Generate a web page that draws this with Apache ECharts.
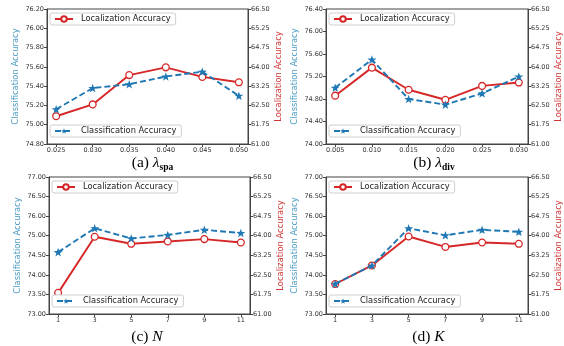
<!DOCTYPE html>
<html>
<head>
<meta charset="utf-8">
<script src="https://cdn.jsdelivr.net/npm/echarts@6/dist/echarts.min.js"></script>
<style>
html,body{margin:0;padding:0;background:#fff;}
#c{width:564px;height:346px;}
</style>
</head>
<body>
<div id="c"></div>
<script>
// ---- data ----
const aX = [0.025, 0.030, 0.035, 0.040, 0.045, 0.050];
const aXLabels = ['0.025', '0.030', '0.035', '0.040', '0.045', '0.050'];
const aCls = [75.16, 75.38, 75.42, 75.50, 75.55, 75.30];
const aLoc = [62.08, 62.54, 63.68, 63.98, 63.61, 63.40];

const bX = [0.005, 0.010, 0.015, 0.020, 0.025, 0.030];
const bXLabels = ['0.005', '0.010', '0.015', '0.020', '0.025', '0.030'];
const bCls = [75.00, 75.50, 74.80, 74.70, 74.90, 75.20];
const bLoc = [62.88, 63.97, 63.11, 62.72, 63.26, 63.39];

const cX = [1, 3, 5, 7, 9, 11];
const cXLabels = ['1', '3', '5', '7', '9', '11'];
const cCls = [74.58, 75.19, 74.93, 75.02, 75.15, 75.07];
const cLoc = [61.81, 63.96, 63.69, 63.78, 63.87, 63.74];

const dX = [1, 3, 5, 7, 9, 11];
const dXLabels = ['1', '3', '5', '7', '9', '11'];
const dCls = [73.77, 74.24, 75.19, 75.01, 75.15, 75.10];
const dLoc = [62.15, 62.86, 63.97, 63.57, 63.74, 63.69];

// tick labels (as printed) and the evenly spaced tick positions they sit on
const aLeftTickLabels = ['74.80', '75.00', '75.20', '75.40', '75.60', '75.80', '76.00', '76.20'];
const aLeftTickValues = [74.8, 75.0, 75.2, 75.4, 75.6, 75.8, 76.0, 76.2];
const bLeftTickLabels = ['74.00', '74.40', '74.80', '75.20', '75.60', '76.00', '76.40'];
const bLeftTickValues = [74.0, 74.4, 74.8, 75.2, 75.6, 76.0, 76.4];
const cdLeftTickLabels = ['73.00', '73.50', '74.00', '74.50', '75.00', '76.00', '76.50', '77.00'];
const cdLeftTickValues = [73.0, 73.5, 74.0, 74.5, 75.0, 75.5, 76.0, 76.5];
const rightTickLabels = ['61.00', '61.75', '62.50', '63.25', '64.00', '64.75', '65.25', '66.50'];
const rightTickValues = [61.0, 61.75, 62.5, 63.25, 64.0, 64.75, 65.5, 66.25];

const captions = [
  {id: '(a) ', sym: 'λ', sub: 'spa'},
  {id: '(b) ', sym: 'λ', sub: 'div'},
  {id: '(c) ', sym: 'N', sub: ''},
  {id: '(d) ', sym: 'K', sub: ''}
];

const LOC = 'Localization Accuracy';
const CLS = 'Classification Accuracy';

// ---- styling ----
const BLUE = '#1f77b4';
const RED = '#d62728';
const BLUE_T = '#4a9ac2';
const RED_T = '#cf3434';
const SPINE = '#444';
const TICKC = '#333';
const FONT = '"DejaVu Sans", sans-serif';
const STAR = 'path://M0,-10 L2.35,-3.24 L9.51,-3.09 L3.8,1.24 L5.88,8.09 L0,4 L-5.88,8.09 L-3.8,1.24 L-9.51,-3.09 L-2.35,-3.24 Z';

const panels = [
  {x: aX, xl: aXLabels, cls: aCls, loc: aLoc, lt: aLeftTickLabels, lv: aLeftTickValues, pad: 0.00125,
   grid: {left: 47, top: 9, width: 201, height: 135}, cap: [152.5, 163]},
  {x: bX, xl: bXLabels, cls: bCls, loc: bLoc, lt: bLeftTickLabels, lv: bLeftTickValues, pad: 0.00125,
   grid: {left: 326, top: 9, width: 202, height: 135}, cap: [434, 163]},
  {x: cX, xl: cXLabels, cls: cCls, loc: cLoc, lt: cdLeftTickLabels, lv: cdLeftTickValues, pad: 0.5,
   grid: {left: 49, top: 177, width: 201, height: 137}, cap: [147, 337]},
  {x: dX, xl: dXLabels, cls: dCls, loc: dLoc, lt: cdLeftTickLabels, lv: cdLeftTickValues, pad: 0.5,
   grid: {left: 326, top: 177, width: 202, height: 137}, cap: [428.5, 337]}
];

function labelFor(values, labels) {
  return function (v) {
    let best = 0, bd = Infinity;
    for (let i = 0; i < values.length; i++) {
      const d = Math.abs(values[i] - v);
      if (d < bd) { bd = d; best = i; }
    }
    return bd < 1e-6 ? labels[best] : '';
  };
}

const grids = [], xAxes = [], yAxes = [], series = [], legends = [], graphics = [];
const axisLabelBase = {color: TICKC, fontSize: 6.5, fontFamily: FONT};

panels.forEach((p, k) => {
  grids.push(Object.assign({show: true, borderColor: SPINE, borderWidth: 1, backgroundColor: 'transparent'}, p.grid));
  xAxes.push({
    type: 'value', gridIndex: k,
    min: p.x[0] - p.pad, max: p.x[p.x.length - 1] + p.pad,
    splitLine: {show: false},
    axisLine: {show: true, onZero: false, lineStyle: {color: SPINE, width: 1}},
    axisTick: {show: true, length: 3, lineStyle: {color: SPINE}, customValues: p.x},
    axisLabel: Object.assign({}, axisLabelBase, {margin: 3, customValues: p.x, formatter: labelFor(p.x, p.xl)})
  });
  yAxes.push({
    type: 'value', gridIndex: k, position: 'left',
    min: p.lv[0], max: p.lv[p.lv.length - 1],
    splitLine: {show: false},
    axisLine: {show: true, onZero: false, lineStyle: {color: SPINE, width: 1}},
    axisTick: {show: true, length: 3, lineStyle: {color: SPINE}, customValues: p.lv},
    axisLabel: Object.assign({}, axisLabelBase, {margin: 3, customValues: p.lv, formatter: labelFor(p.lv, p.lt)}),
    name: CLS, nameLocation: 'middle', nameGap: 27,
    nameTextStyle: {color: BLUE_T, fontSize: 8.4, fontFamily: FONT}
  });
  yAxes.push({
    type: 'value', gridIndex: k, position: 'right',
    min: rightTickValues[0], max: rightTickValues[rightTickValues.length - 1],
    splitLine: {show: false},
    axisLine: {show: true, onZero: false, lineStyle: {color: SPINE, width: 1}},
    axisTick: {show: true, length: 3, lineStyle: {color: SPINE}, customValues: rightTickValues},
    axisLabel: Object.assign({}, axisLabelBase, {margin: 3, customValues: rightTickValues, formatter: labelFor(rightTickValues, rightTickLabels)}),
    name: LOC, nameLocation: 'middle', nameGap: 27,
    nameTextStyle: {color: RED_T, fontSize: 8.4, fontFamily: FONT}
  });
  series.push({
    name: LOC, type: 'line', xAxisIndex: k, yAxisIndex: 2 * k + 1,
    data: p.x.map((xv, i) => [xv, p.loc[i]]),
    lineStyle: {color: RED, width: 1.9},
    itemStyle: {color: '#fff', borderColor: RED, borderWidth: 1.3},
    symbol: 'circle', symbolSize: 6.8, showAllSymbol: true, animation: false, z: 3
  });
  series.push({
    name: CLS, type: 'line', xAxisIndex: k, yAxisIndex: 2 * k,
    data: p.x.map((xv, i) => [xv, p.cls[i]]),
    lineStyle: {color: BLUE, width: 1.9, type: [6, 3]},
    itemStyle: {color: BLUE, borderWidth: 0},
    symbol: STAR, symbolSize: 9, symbolKeepAspect: true, showAllSymbol: true, animation: false, z: 4
  });
  const g = p.grid;
  const legBase = {
    orient: 'horizontal', itemWidth: 18, itemHeight: 7, itemGap: 4,
    padding: [2, 5, 2, 4], borderColor: '#cfcfcf', borderWidth: 1, borderRadius: 2,
    backgroundColor: '#fff',
    textStyle: {fontSize: 8.3, fontFamily: FONT, color: '#222', padding: [0, 0, 0, 3]},
    selectedMode: false
  };
  legends.push(Object.assign({}, legBase, {data: [LOC], left: g.left + 3, top: g.top + 4}));
  legends.push(Object.assign({}, legBase, {data: [CLS], left: g.left + 3, top: g.top + g.height - 19}));

  const cap = captions[k];
  graphics.push({
    type: 'text', x: p.cap[0], y: p.cap[1],
    style: {
      text: '{m|' + cap.id + '}{l|' + cap.sym + '}' + (cap.sub ? '{s|' + cap.sub + '}' : ''),
      align: 'center', verticalAlign: 'middle',
      rich: {
        m: {fontFamily: '"Liberation Serif", serif', fontSize: 15.5, lineHeight: 19, color: '#111'},
        l: {fontFamily: '"Liberation Serif", serif', fontSize: 15.5, fontStyle: 'italic', lineHeight: 19, color: '#111'},
        s: {fontFamily: '"Liberation Serif", serif', fontSize: 9.5, fontWeight: 'bold', lineHeight: 9, verticalAlign: 'bottom', color: '#111'}
      }
    }
  });
});

const chart = echarts.init(document.getElementById('c'), null, {renderer: 'canvas'});
chart.setOption({
  animation: false,
  backgroundColor: '#fff',
  grid: grids, xAxis: xAxes, yAxis: yAxes, series: series, legend: legends, graphic: graphics
});
</script>
</body>
</html>
